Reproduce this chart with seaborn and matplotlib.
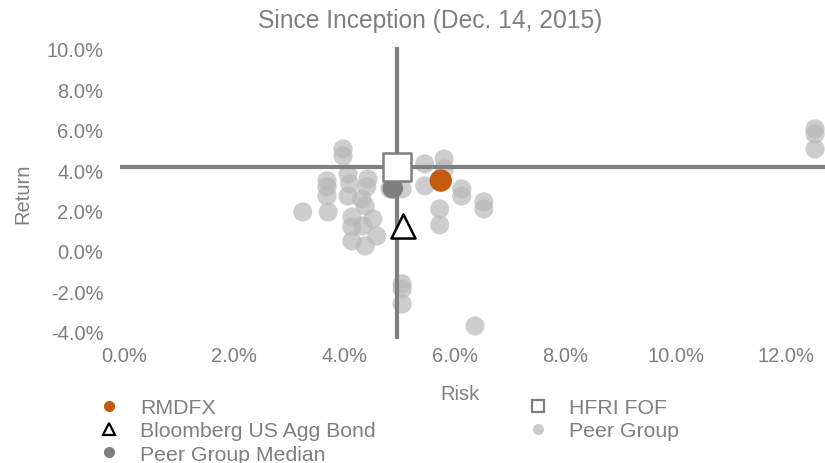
import numpy as np
import pandas as pd
import matplotlib
matplotlib.use("Agg")
import matplotlib.pyplot as plt
import seaborn as sns
from matplotlib.lines import Line2D
from matplotlib.ticker import PercentFormatter

# Data (risk, return) in decimal form
peer_risk = [0.0397, 0.0397, 0.0368, 0.0368, 0.0368, 0.0324, 0.0370, 0.0406, 0.0409,
             0.0406, 0.0442, 0.0440, 0.0431, 0.0437, 0.0413, 0.0413, 0.0451, 0.0433,
             0.0458, 0.0413, 0.0437, 0.0482, 0.0504, 0.0545, 0.0580, 0.0580, 0.0545,
             0.0612, 0.0612, 0.0652, 0.0652, 0.0572, 0.0572, 0.0504, 0.0504, 0.0504,
             0.0636, 0.1252, 0.1252, 0.1252]
peer_return = [0.0505, 0.0470, 0.0347, 0.0317, 0.0272, 0.0193, 0.0193, 0.0381, 0.0332,
               0.0272, 0.0356, 0.0317, 0.0257, 0.0223, 0.0168, 0.0119, 0.0158, 0.0124,
               0.0074, 0.0049, 0.0025, 0.0307, 0.0307, 0.0431, 0.0455, 0.0406, 0.0322,
               0.0307, 0.0272, 0.0243, 0.0208, 0.0208, 0.0129, -0.0163, -0.0188, -0.0262,
               -0.0371, 0.0604, 0.0579, 0.0505]

rmdfx_risk, rmdfx_return = [0.0574], [0.0348]
hfri_risk, hfri_return = [0.0495], [0.0415]
agg_risk, agg_return = [0.0505], [0.0124]
median_risk, median_return = [0.0487], [0.0310]

TEXT = "#7f7f7f"
LINE = "#808080"
ORANGE = "#c55a11"
FS = 14.5

sns.set_style("white")
plt.rcParams["font.family"] = ["Liberation Sans", "DejaVu Sans"]
plt.rcParams["axes.unicode_minus"] = False

fig = plt.figure(figsize=(8.25, 4.64), dpi=100)
ax = fig.add_axes([0.1455, 0.267, 0.8545, 0.630])

sns.scatterplot(x=peer_risk, y=peer_return, ax=ax, s=190, color="#b8b8b8",
                alpha=0.7, edgecolor="none", zorder=1, legend=False)
ax.axvline(hfri_risk[0], color=LINE, lw=3, zorder=2)
ax.axhline(hfri_return[0], color=LINE, lw=3, zorder=2)
sns.scatterplot(x=rmdfx_risk, y=rmdfx_return, ax=ax, s=260, color=ORANGE,
                edgecolor="none", zorder=4, legend=False)
sns.scatterplot(x=agg_risk, y=agg_return, ax=ax, s=300, marker="^", color="white",
                edgecolor="black", linewidth=1.8, zorder=4, legend=False)
sns.scatterplot(x=median_risk, y=median_return, ax=ax, s=220, color="#7f7f7f",
                edgecolor="none", zorder=4, legend=False)
sns.scatterplot(x=hfri_risk, y=hfri_return, ax=ax, s=380, marker="s", color="white",
                edgecolor="#7f7f7f", linewidth=1.8, zorder=5, legend=False)

ax.set_xlim(-0.0007, 0.127)
ax.set_ylim(-0.0436, 0.101)
ax.set_xticks(np.arange(0, 0.121, 0.02))
ax.set_yticks(np.arange(-0.04, 0.101, 0.02))
ax.xaxis.set_major_formatter(PercentFormatter(1.0, decimals=1))
ax.yaxis.set_major_formatter(PercentFormatter(1.0, decimals=1))
ax.tick_params(axis="both", length=0, labelsize=FS, colors=TEXT)
ax.tick_params(axis="y", pad=12)
ax.tick_params(axis="x", pad=5)
for s in ax.spines.values():
    s.set_visible(False)

ax.set_xlabel("Risk", fontsize=FS, color=TEXT)
ax.xaxis.set_label_coords(0.482, -0.155)
ax.set_ylabel("Return", fontsize=FS, color=TEXT)
ax.yaxis.set_label_coords(-0.125, 0.5)
fig.text(430 / 825, 1 - 21 / 464, "Since Inception (Dec. 14, 2015)", fontsize=17.7,
         color=TEXT, ha="center", va="center")

handles = [
    Line2D([], [], ls="none", marker="o", ms=7, mfc=ORANGE, mec=ORANGE),
    Line2D([], [], ls="none", marker="^", ms=8, mfc="white", mec="black", mew=1.6),
    Line2D([], [], ls="none", marker="o", ms=7, mfc="#7f7f7f", mec="#7f7f7f"),
    Line2D([], [], ls="none", marker="s", ms=8, mfc="white", mec="#7f7f7f", mew=1.6),
    Line2D([], [], ls="none", marker="o", ms=7, mfc="#cccccc", mec="#cccccc"),
]
labels = ["RMDFX", "Bloomberg US Agg Bond", "Peer Group Median", "HFRI FOF", "Peer Group"]
fig.legend(handles, labels, ncol=2, loc="upper left",
           bbox_to_anchor=(0.108, 0.140), frameon=False, fontsize=15.3,
           labelcolor=TEXT, handlelength=1.9, handletextpad=0.5,
           columnspacing=6.7, labelspacing=0.2, borderpad=0, borderaxespad=0)

fig.savefig("out.png", dpi=100)
